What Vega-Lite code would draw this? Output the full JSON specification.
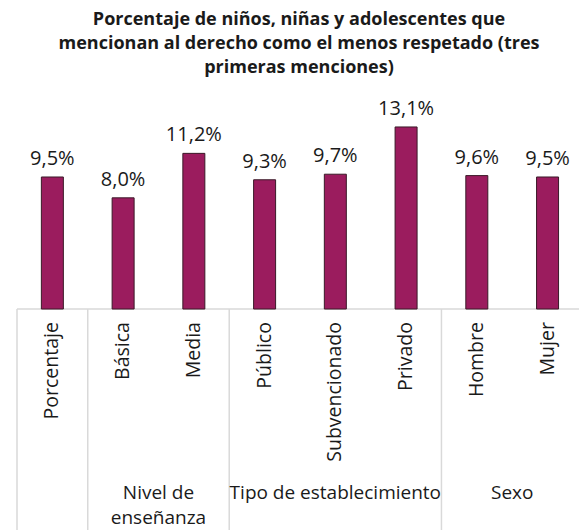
{
  "$schema": "https://vega.github.io/schema/vega-lite/v6.json",
  "width": 572,
  "height": 430,
  "autosize": {"type": "none"},
  "padding": {"left": 12, "top": 100, "right": 0, "bottom": 0},
  "background": "white",
  "config": {"view": {"stroke": null}, "font": "Open Sans"},
  "title": {
    "text": ["Porcentaje de niños, niñas y adolescentes que", "mencionan al derecho como el menos respetado (tres", "primeras menciones)"],
    "font": "Open Sans",
    "fontSize": 18,
    "fontWeight": "bold",
    "color": "#1a1a1a",
    "lineHeight": 24,
    "anchor": "middle",
    "dx": 1,
    "offset": 22
  },
  "datasets": {
    "bars": [
      {"idx": 0, "categoria": "Porcentaje", "valor": 9.5, "etiqueta": "9,5%"},
      {"idx": 1, "categoria": "Básica", "valor": 8.0, "etiqueta": "8,0%"},
      {"idx": 2, "categoria": "Media", "valor": 11.2, "etiqueta": "11,2%"},
      {"idx": 3, "categoria": "Público", "valor": 9.3, "etiqueta": "9,3%"},
      {"idx": 4, "categoria": "Subvencionado", "valor": 9.7, "etiqueta": "9,7%"},
      {"idx": 5, "categoria": "Privado", "valor": 13.1, "etiqueta": "13,1%"},
      {"idx": 6, "categoria": "Hombre", "valor": 9.6, "etiqueta": "9,6%"},
      {"idx": 7, "categoria": "Mujer", "valor": 9.5, "etiqueta": "9,5%"}
    ],
    "grupos": [
      {"centro": 1.5, "grupo": ["Nivel de", "enseñanza"]},
      {"centro": 4, "grupo": "Tipo de establecimiento"},
      {"centro": 6.5, "grupo": "Sexo"}
    ],
    "divisiones": [
      {"pos": -0.5},
      {"pos": 0.5},
      {"pos": 2.5},
      {"pos": 5.5}
    ]
  },
  "layer": [
    {
      "data": {"name": "divisiones"},
      "mark": {"type": "rule", "color": "#d9d9d9", "strokeWidth": 1.5},
      "encoding": {
        "x": {"field": "pos", "type": "quantitative", "scale": {"domain": [-0.5, 7.4444], "nice": false, "zero": false}, "axis": null},
        "y": {"datum": 0, "type": "quantitative", "scale": {"domain": [-15.9, 15.04], "nice": false, "zero": false}, "axis": null},
        "y2": {"datum": -15.9}
      }
    },
    {
      "data": {"values": [{"a": -0.5, "b": 7.4444}]},
      "mark": {"type": "rule", "color": "#d9d9d9", "strokeWidth": 1.5},
      "encoding": {
        "x": {"field": "a", "type": "quantitative"},
        "x2": {"field": "b"},
        "y": {"datum": 0, "type": "quantitative"}
      }
    },
    {
      "data": {"name": "bars"},
      "mark": {"type": "bar", "width": 22, "color": "#9b1c5e", "stroke": "#3a1a28", "strokeWidth": 1},
      "encoding": {
        "x": {"field": "idx", "type": "quantitative"},
        "y": {"field": "valor", "type": "quantitative"},
        "y2": {"datum": 0}
      }
    },
    {
      "data": {"name": "bars"},
      "mark": {"type": "text", "font": "Open Sans", "fontSize": 20, "baseline": "bottom", "dy": -8, "color": "#1a1a1a"},
      "encoding": {
        "x": {"field": "idx", "type": "quantitative"},
        "y": {"field": "valor", "type": "quantitative"},
        "text": {"field": "etiqueta"}
      }
    },
    {
      "data": {"name": "bars"},
      "mark": {"type": "text", "font": "Open Sans", "fontSize": 19.5, "angle": 270, "align": "right", "baseline": "middle", "color": "#1a1a1a"},
      "encoding": {
        "x": {"field": "idx", "type": "quantitative"},
        "y": {"datum": -0.94, "type": "quantitative"},
        "text": {"field": "categoria"}
      }
    },
    {
      "data": {"name": "grupos"},
      "mark": {"type": "text", "font": "Open Sans", "fontSize": 19, "align": "center", "baseline": "top", "lineHeight": 25, "color": "#1a1a1a"},
      "encoding": {
        "x": {"field": "centro", "type": "quantitative"},
        "y": {"datum": -12.59, "type": "quantitative"},
        "text": {"field": "grupo"}
      }
    }
  ]
}
